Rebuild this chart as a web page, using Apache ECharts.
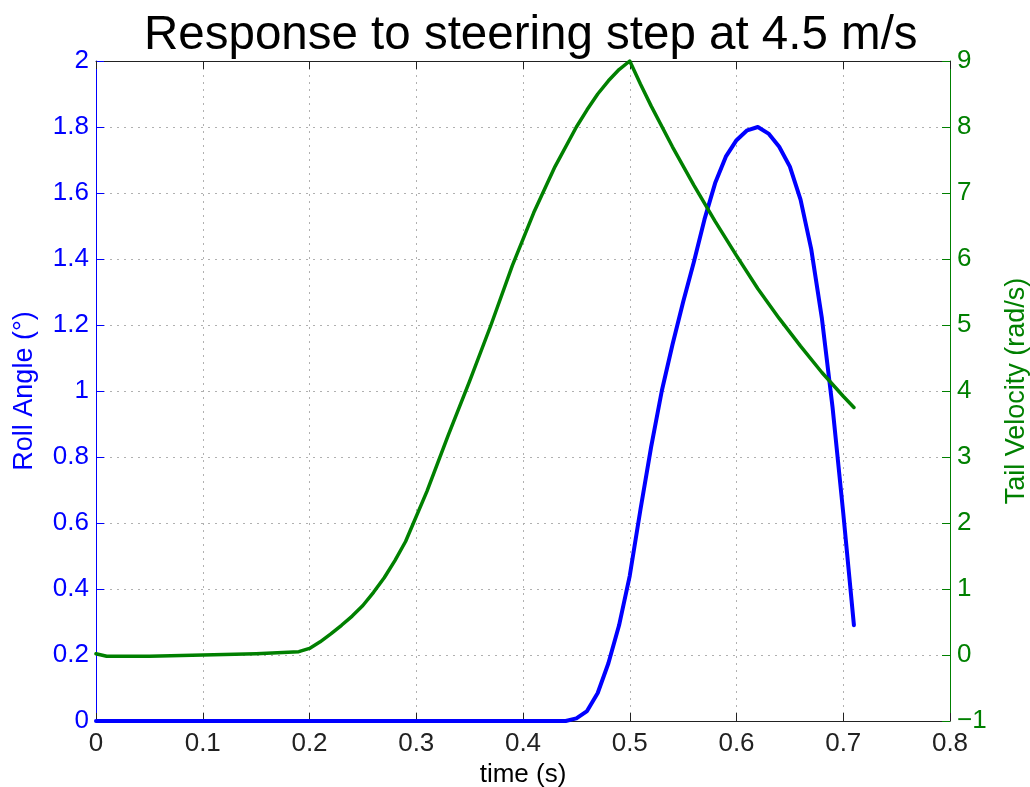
<!DOCTYPE html>
<html>
<head>
<meta charset="utf-8">
<script src="https://cdn.jsdelivr.net/npm/echarts@6/dist/echarts.min.js"></script>
<style>
  html, body { margin: 0; padding: 0; background: #fff; }
  #chart { width: 1030px; height: 787px; }
</style>
</head>
<body>
<div id="chart"></div>
<script>
// roll angle (left axis, deg)
var rollTime  = [0, 0.44, 0.45, 0.46, 0.47, 0.48, 0.49, 0.5, 0.51, 0.52, 0.53, 0.54, 0.55, 0.56, 0.57, 0.58, 0.59, 0.6, 0.61, 0.62, 0.63, 0.64, 0.65, 0.66, 0.67, 0.68, 0.69, 0.7, 0.71]
var rollAngle = [0, 0, 0.008, 0.03, 0.085, 0.175, 0.29, 0.44, 0.64, 0.83, 1.0, 1.14, 1.27, 1.39, 1.52, 1.63, 1.71, 1.76, 1.79, 1.8, 1.78, 1.74, 1.68, 1.58, 1.43, 1.22, 0.95, 0.63, 0.29]

// tail velocity (right axis, rad/s)
var tailTime     = [0, 0.01, 0.05, 0.1, 0.15, 0.19, 0.2, 0.21, 0.22, 0.23, 0.24, 0.25, 0.26, 0.27, 0.28, 0.29, 0.31, 0.33, 0.35, 0.37, 0.39, 0.41, 0.43, 0.45, 0.46, 0.47, 0.48, 0.49, 0.5, 0.51, 0.52, 0.54, 0.56, 0.58, 0.6, 0.62, 0.64, 0.66, 0.68, 0.7, 0.71]
var tailVelocity = [0.02, -0.02, -0.02, 0, 0.02, 0.05, 0.1, 0.2, 0.32, 0.45, 0.59, 0.75, 0.95, 1.17, 1.43, 1.72, 2.48, 3.33, 4.15, 5.0, 5.9, 6.7, 7.4, 8.0, 8.26, 8.5, 8.7, 8.87, 9.0, 8.65, 8.32, 7.7, 7.12, 6.57, 6.05, 5.55, 5.1, 4.68, 4.28, 3.92, 3.75]

var FONT = 'Liberation Sans'
var BLUE = '#0000ff'
var GREEN = '#008000'

function pairs(xs, ys) {
  return xs.map(function (x, i) { return [x, ys[i]] })
}

var chart = echarts.init(document.getElementById('chart'))

var option = {
  backgroundColor: '#fff',
  animation: false,
  title: {
    text: 'Response to steering step at 4.5 m/s',
    left: 139,
    top: 7,
    textStyle: { fontFamily: FONT, fontSize: 47.5, fontWeight: 'normal', color: '#000' }
  },
  grid: { left: 96, right: 80, top: 61, bottom: 66, containLabel: false, outerBoundsMode: 'none' },
  xAxis: [
    {
      type: 'value',
      min: 0, max: 0.8, interval: 0.1,
      name: 'time (s)',
      nameLocation: 'middle',
      nameGap: 36,
      nameTextStyle: { fontFamily: FONT, fontSize: 26, color: '#000' },
      axisLine: { show: true, lineStyle: { color: '#222', width: 1 } },
      axisTick: { show: true, inside: true, length: 8, lineStyle: { color: '#222' } },
      axisLabel: { fontFamily: FONT, fontSize: 26, color: '#222', margin: 10 },
      splitLine: { show: true, lineStyle: { color: '#b0b0b0', type: [2, 5], width: 1 } }
    },
    {
      // top frame with inward ticks
      type: 'value',
      position: 'top',
      min: 0, max: 0.8, interval: 0.1,
      axisLine: { show: true, onZero: false, lineStyle: { color: '#222', width: 1 } },
      axisTick: { show: true, inside: true, length: 8, lineStyle: { color: '#222' } },
      axisLabel: { show: false },
      splitLine: { show: false }
    }
  ],
  yAxis: [
    {
      type: 'value',
      position: 'left',
      min: 0, max: 2, interval: 0.2,
      name: 'Roll Angle (°)',
      nameLocation: 'middle',
      nameGap: 58,
      nameTextStyle: { fontFamily: FONT, fontSize: 27, color: BLUE },
      axisLine: { show: true, lineStyle: { color: BLUE, width: 1 } },
      axisTick: { show: true, inside: true, length: 8, lineStyle: { color: BLUE } },
      axisLabel: { fontFamily: FONT, fontSize: 26, color: BLUE, margin: 7 },
      splitLine: { show: true, lineStyle: { color: '#b0b0b0', type: [2, 5], width: 1 } }
    },
    {
      type: 'value',
      position: 'right',
      min: -1, max: 9, interval: 1,
      name: 'Tail Velocity (rad/s)',
      nameLocation: 'middle',
      nameGap: 53,
      nameRotate: 90,
      nameTextStyle: { fontFamily: FONT, fontSize: 27, color: GREEN },
      axisLine: { show: true, onZero: false, lineStyle: { color: GREEN, width: 1 } },
      axisTick: { show: true, inside: true, length: 8, lineStyle: { color: GREEN } },
      axisLabel: {
        fontFamily: FONT, fontSize: 26, color: GREEN, margin: 7,
        formatter: function (v) { return String(v).replace('-', '\u2212') }
      },
      splitLine: { show: false }
    }
  ],
  series: [
    {
      name: 'Roll Angle',
      type: 'line',
      xAxisIndex: 0,
      yAxisIndex: 0,
      data: pairs(rollTime, rollAngle),
      showSymbol: false,
      clip: false,
      lineStyle: { color: BLUE, width: 4, join: 'round', cap: 'round' }
    },
    {
      name: 'Tail Velocity',
      type: 'line',
      xAxisIndex: 0,
      yAxisIndex: 1,
      data: pairs(tailTime, tailVelocity),
      showSymbol: false,
      clip: false,
      lineStyle: { color: GREEN, width: 3.5, join: 'round', cap: 'round' }
    }
  ]
}

chart.setOption(option)
</script>
</body>
</html>
